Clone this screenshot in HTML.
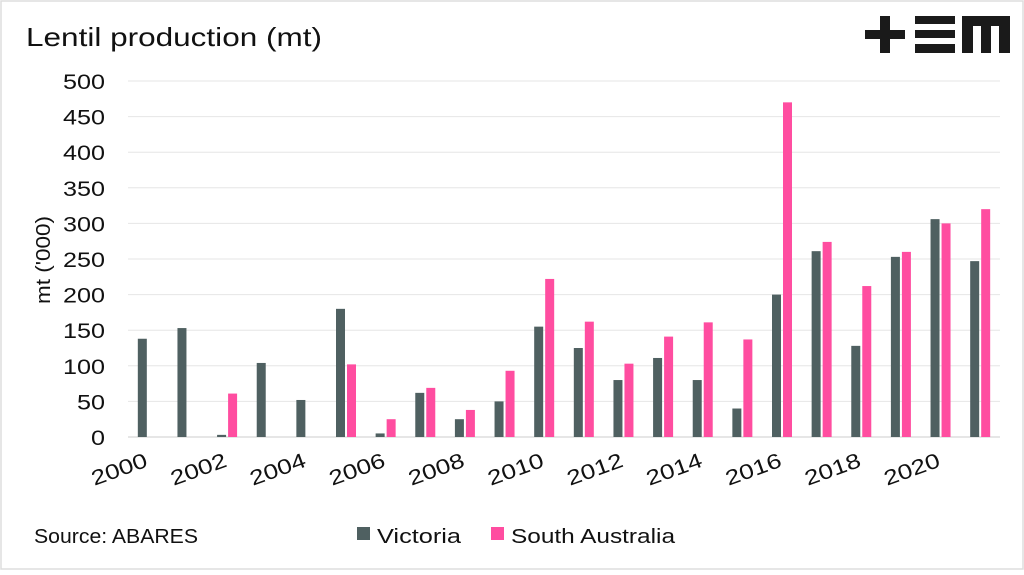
<!DOCTYPE html>
<html><head><meta charset="utf-8"><style>
html,body{margin:0;padding:0;background:#fff}
body{width:1024px;height:570px;overflow:hidden;font-family:"Liberation Sans",sans-serif}
</style></head><body>
<svg width="1024" height="570" viewBox="0 0 1024 570">
<rect x="1" y="1" width="1022" height="568" fill="#fff" stroke="#ddd" stroke-width="1.5"/>
<text x="26" y="46" font-size="26" fill="#111" textLength="296" lengthAdjust="spacingAndGlyphs">Lentil production (mt)</text>
<g fill="#1a1a1a">
<rect x="865" y="30" width="40" height="9"/><rect x="880" y="16" width="10" height="37"/>
<rect x="915" y="16" width="40" height="8"/><rect x="915" y="30" width="40" height="8"/><rect x="915" y="44" width="40" height="9"/>
<path d="M962 16 H1010 V53 H999 V26 H991 V53 H981 V26 H973 V53 H962 Z"/>
</g>
<text transform="translate(50,260) rotate(-90)" text-anchor="middle" font-size="20" fill="#111" textLength="88" lengthAdjust="spacingAndGlyphs">mt ('000)</text>
<g id="grid"></g><g id="bars"></g><g id="ticks"></g>
<g><text x="34" y="543" font-size="20" fill="#111" textLength="164" lengthAdjust="spacingAndGlyphs">Source: ABARES</text></g>
<g>
<g><rect x="357" y="527" width="13" height="13" fill="#4f6061"/><text x="377" y="543" font-size="20" fill="#111" textLength="84" lengthAdjust="spacingAndGlyphs">Victoria</text></g>
<g><rect x="491" y="527" width="13" height="13" fill="#ff4da0"/><text x="511" y="543" font-size="20" fill="#111" textLength="164" lengthAdjust="spacingAndGlyphs">South Australia</text></g>
</g>
</svg>
<script>
const years=[2000,2001,2002,2003,2004,2005,2006,2007,2008,2009,2010,2011,2012,2013,2014,2015,2016,2017,2018,2019,2020,2021];
const victoria=[138,153,3,104,52,180,5,62,25,50,155,125,80,111,80,40,200,261,128,253,306,247];
const southAustralia=[0,0,61,0,0,102,25,69,38,93,222,162,103,141,161,137,470,274,212,260,300,320];
const yTicks=[0,50,100,150,200,250,300,350,400,450,500];
const NS='http://www.w3.org/2000/svg';
const x0=128,x1=1000,y0=437,y1=81;
const step=(x1-x0)/years.length;
const xc=i=>x0+step*(i+0.5);
const y=v=>y0-(v/500)*(y0-y1);
function mk(t,a,p){const e=document.createElementNS(NS,t);for(const k in a)e.setAttribute(k,a[k]);p.appendChild(e);return e;}
const grid=document.getElementById('grid'),bars=document.getElementById('bars'),ticks=document.getElementById('ticks');
yTicks.forEach(v=>{
 const l=mk('line',{x1:x0,x2:x1,y1:y(v),y2:y(v),stroke:v===0?'#ccc':'#e6e6e6','stroke-width':1},grid);
 
 
 const s=String(v).length;
 const t=mk('text',{x:105,y:y(v)+8,'text-anchor':'end','font-size':21,fill:'#111',textLength:s*14,lengthAdjust:'spacingAndGlyphs'},ticks);
 t.textContent=v;
 
 
});
years.forEach((yr,i)=>{
 const c=xc(i);
 const a=mk('rect',{x:c-10,y:y(victoria[i]),width:9,height:y0-y(victoria[i]),fill:'#4f6061'},bars);
 
 
 const b=mk('rect',{x:c+1,y:y(southAustralia[i]),width:9,height:y0-y(southAustralia[i]),fill:'#ff4da0'},bars);
 
 
 if(i%2===0){
  const t=mk('text',{transform:'translate('+(c+1)+',466) rotate(-20)','text-anchor':'end','font-size':21,fill:'#111',textLength:58,lengthAdjust:'spacingAndGlyphs'},ticks);
  t.textContent=yr;
  
  
 }
});
</script>
</body></html>
